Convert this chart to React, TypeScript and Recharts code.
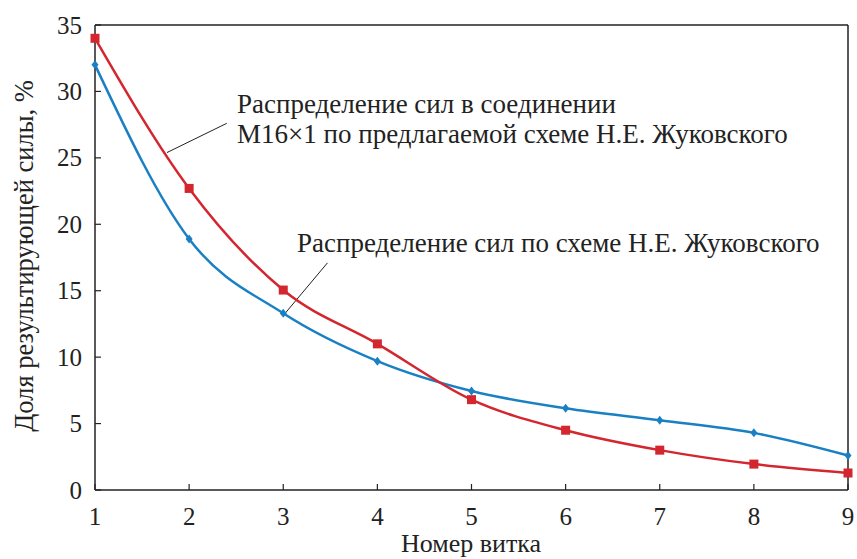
import React from 'react';
import { LineChart, Line, XAxis, YAxis, ReferenceLine, Customized } from 'recharts';

const turns = [1, 2, 3, 4, 5, 6, 7, 8, 9];
const zhukovsky = [32.0, 18.9, 13.3, 9.7, 7.45, 6.15, 5.25, 4.3, 2.6];
const proposed = [34.0, 22.7, 15.05, 11.0, 6.8, 4.5, 3.0, 1.95, 1.28];
const xTicks = [1, 2, 3, 4, 5, 6, 7, 8, 9];
const yTicks = [0, 5, 10, 15, 20, 25, 30, 35];

const data = turns.map((t, i) => ({ turn: t, zh: zhukovsky[i], pr: proposed[i] }));

const FONT = "'Liberation Serif', 'DejaVu Serif', serif";
const RED = '#d4262e';
const BLUE = '#1a80c4';
const txt = { fontFamily: FONT };

const XTick = (props: any) => {
  const { x, y, payload } = props;
  return (
    <g>
      <line x1={x} y1={y} x2={x} y2={y - 6} stroke="#222" strokeWidth={1.2} />
      <text x={x} y={y + 35} textAnchor="middle" style={txt} fontSize={25} fill="#222">
        {payload.value}
      </text>
    </g>
  );
};

const YTick = (props: any) => {
  const { x, y, payload } = props;
  return (
    <g>
      <line x1={x} y1={y} x2={x + 6} y2={y} stroke="#222" strokeWidth={1.2} />
      <text x={x - 13} y={y + 8.5} textAnchor="end" style={txt} fontSize={25} fill="#222">
        {payload.value}
      </text>
    </g>
  );
};

const Square = (props: any) => {
  const { cx, cy } = props;
  if (cx == null || cy == null) return null;
  return <rect x={cx - 4.5} y={cy - 4.5} width={9} height={9} fill={RED} />;
};

const Diamond = (props: any) => {
  const { cx, cy } = props;
  if (cx == null || cy == null) return null;
  return <path d={`M${cx},${cy - 4.5} L${cx + 3.5},${cy} L${cx},${cy + 4.5} L${cx - 3.5},${cy} Z`} fill={BLUE} />;
};

const Annotations = () => (
  <g fill="#222">
    <text x={237} y={113} fontSize={27} style={txt}>Распределение сил в соединении</text>
    <text x={237} y={143} fontSize={27} style={txt}>M16×1 по предлагаемой схеме Н.Е. Жуковского</text>
    <text x={297} y={252} fontSize={27} style={txt}>Распределение сил по схеме Н.Е. Жуковского</text>
    <text
      x={27}
      y={256}
      fontSize={26.5}
      style={txt}
      textAnchor="middle"
      transform="rotate(-90 27 256)"
      dominantBaseline="middle"
    >
      Доля результирующей силы, %
    </text>
    <text x={471} y={552} fontSize={26} style={txt} textAnchor="middle">Номер витка</text>
  </g>
);

export default function App() {
  return (
    <div style={{ position: 'absolute', left: 0, top: 0, background: '#fff' }}>
      <LineChart width={857} height={559} data={data} margin={{ top: 25, right: 9, bottom: 0, left: 0 }}>
        <XAxis
          dataKey="turn"
          type="number"
          domain={[1, 9]}
          ticks={xTicks}
          tickSize={0}
          tickMargin={0}
          tickLine={false}
          axisLine={{ stroke: '#222', strokeWidth: 1.5 }}
          tick={<XTick />}
          height={69}
        />
        <YAxis
          type="number"
          domain={[0, 35]}
          ticks={yTicks}
          tickSize={0}
          tickMargin={0}
          tickLine={false}
          axisLine={{ stroke: '#222', strokeWidth: 1.5 }}
          tick={<YTick />}
          width={95}
        />
        <ReferenceLine y={35} stroke="#222" strokeWidth={1.5} />
        <ReferenceLine x={9} stroke="#222" strokeWidth={1.5} />
        <ReferenceLine segment={[{ x: 1.765, y: 25.4 }, { x: 2.4, y: 27.6 }]} stroke="#222" strokeWidth={1} />
        <ReferenceLine segment={[{ x: 3.02, y: 13.3 }, { x: 3.47, y: 17.1 }]} stroke="#222" strokeWidth={1} />
        <Line
          type="monotone"
          dataKey="zh"
          stroke={BLUE}
          strokeWidth={2.5}
          dot={<Diamond />}
          activeDot={false}
          isAnimationActive={false}
        />
        <Line
          type="monotone"
          dataKey="pr"
          stroke={RED}
          strokeWidth={2.5}
          dot={<Square />}
          activeDot={false}
          isAnimationActive={false}
        />
        <Customized component={Annotations} />
      </LineChart>
    </div>
  );
}
